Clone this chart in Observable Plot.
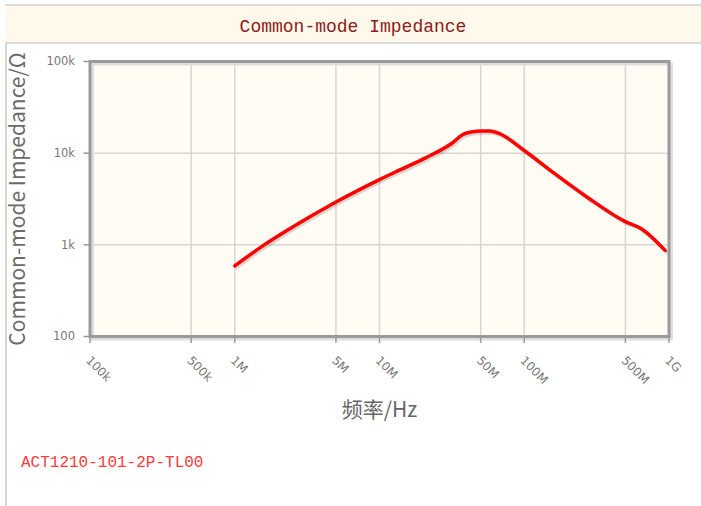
<!DOCTYPE html>
<html>
<head>
<meta charset="utf-8">
<script src="https://cdn.jsdelivr.net/npm/d3@7"></script>
<script src="https://cdn.jsdelivr.net/npm/@observablehq/plot@0.6"></script>
<style>
  html, body { margin: 0; padding: 0; background: #fff; }
  body { width: 701px; height: 506px; position: relative; overflow: hidden; }
  #leftline { position: absolute; left: 5px; top: 4px; width: 2px; height: 502px; background: #d4d4d4; }
  #title {
    position: absolute; left: 5px; top: 4px; width: 696px; height: 33px; padding-top: 3px;
    background: #fff9eb; border-top: 2px solid #dcdcdc; border-bottom: 2px solid #dcdcdc;
    font-family: "Liberation Mono", monospace; font-size: 18px; line-height: 36px;
    color: #8e1a1a; text-align: center;
  }
  #chart { position: absolute; left: 0; top: 44px; }
  #caption {
    position: absolute; left: 21px; top: 452px;
    font-family: "Liberation Mono", monospace; font-size: 16px; line-height: 22px; color: #ff3a3a;
  }
</style>
</head>
<body>
<div id="leftline"></div>
<div id="title">Common-mode Impedance</div>
<div id="chart"></div>
<div id="caption">ACT1210-101-2P-TL00</div>
<script>
// Frequency (Hz) and common-mode impedance (Ω)
const freqHz = [1e6, 1.57e6, 2.29e6, 5e6, 1e7, 1.37e7, 2.1e7, 3.2e7, 3.77e7, 4.3e7, 5e7, 5.8e7, 6.75e7, 1e8, 1.59e8, 2.71e8, 5e8, 6.4e8, 9.4e8];
const impedanceOhm = [590, 980, 1430, 2930, 5150, 6530, 8950, 13000, 16000, 17000, 17500, 17400, 16300, 10700, 6140, 3330, 1790, 1510, 870];

const xTicks = [1e5, 5e5, 1e6, 5e6, 1e7, 5e7, 1e8, 5e8, 1e9];
const xTickLabels = ["100k", "500k", "1M", "5M", "10M", "50M", "100M", "500M", "1G"];
const yTicks = [100, 1000, 10000, 100000];
const yTickLabels = ["100", "1k", "10k", "100k"];
const xGrid = [5e5, 1e6, 5e6, 1e7, 5e7, 1e8, 5e8];
const yGrid = [1000, 10000];

const xLabelOf = new Map(xTicks.map((d, i) => [d, xTickLabels[i]]));
const yLabelOf = new Map(yTicks.map((d, i) => [d, yTickLabels[i]]));
const data = freqHz.map((f, i) => ({f, z: impedanceOhm[i]}));

const chart = Plot.plot({
  width: 701,
  height: 396,
  marginTop: 17,
  marginBottom: 104,
  marginLeft: 89.5,
  marginRight: 32.5,
  style: {background: "transparent", fontFamily: "DejaVu Sans", fontSize: "11px", color: "#777", overflow: "visible"},
  x: {type: "log", domain: [1e5, 1e9]},
  y: {type: "log", domain: [100, 100000]},
  marks: [
    Plot.frame({fill: "#fffcf3", stroke: null}),
    Plot.gridX(xGrid, {stroke: "#d6d6d6", strokeOpacity: 1, strokeWidth: 1.5}),
    Plot.gridY(yGrid, {stroke: "#d6d6d6", strokeOpacity: 1, strokeWidth: 1.5}),
    Plot.frame({stroke: "#dedede", strokeWidth: 3, dx: 2.5, dy: 2.5}),
    Plot.line(data, {x: "f", y: "z", curve: "monotone-x", stroke: "#000", strokeOpacity: 0.15, strokeWidth: 3.5, dx: 1.5, dy: 2}),
    Plot.line(data, {x: "f", y: "z", curve: "monotone-x", stroke: "#ff0000", strokeWidth: 3.5}),
    Plot.frame({stroke: "#9a9a9a", strokeWidth: 3}),
    Plot.axisX({ticks: xTicks, tickFormat: null, tickSize: 7, stroke: "#9a9a9a", strokeWidth: 1.5, fill: "none", label: null}),
    Plot.text(xTicks, {x: d => d, text: d => xLabelOf.get(d), frameAnchor: "bottom", dy: 22, dx: -2, rotate: 45, textAnchor: "start", lineAnchor: "middle", fill: "#777", fontSize: 12}),
    Plot.axisY(yTicks, {tickFormat: d => yLabelOf.get(d), tickSize: 6, tickPadding: 9, stroke: "#9a9a9a", strokeWidth: 1.5, fill: "#777", fontSize: 11.5, label: null}),
    Plot.axisX([], {label: "频率/Hz", labelAnchor: "center", labelOffset: 80, labelArrow: false, dx: -3, fill: "#666", fontSize: 21, fontFamily: "Noto Sans CJK SC"}),
    Plot.axisY([], {label: "Common-mode Impedance/Ω", labelAnchor: "center", labelOffset: 80, labelArrow: false, dy: -5, fill: "#6a6a6a", fontSize: 21, fontFamily: "Noto Sans CJK SC"})
  ]
});
document.getElementById("chart").appendChild(chart);
</script>
</body>
</html>
